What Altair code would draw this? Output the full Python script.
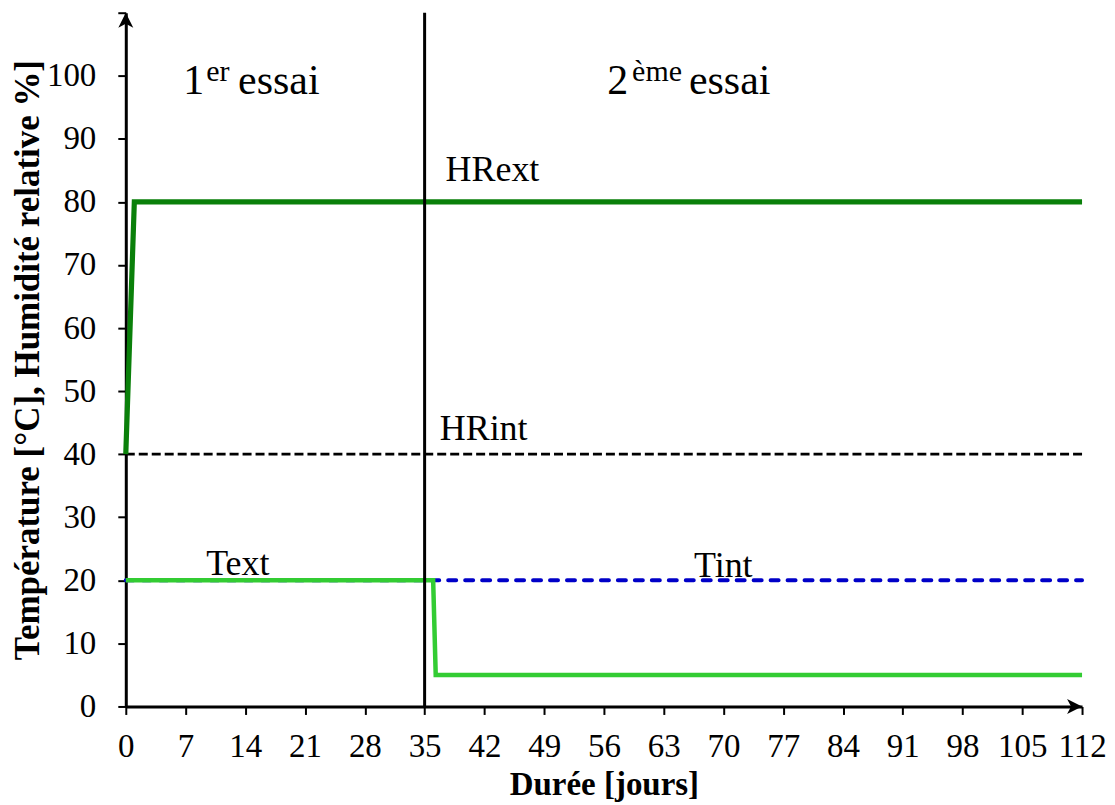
import altair as alt
import pandas as pd

# ---- data ----
days_hrext = [0, 1, 112]
vals_hrext = [40, 80, 80]
days_hrint = [0, 112]
vals_hrint = [40, 40]
days_text = [0, 36, 36.3, 112]
vals_text = [20, 20, 5, 5]
days_tint = [0, 112]
vals_tint = [20, 20]
separator_day = [35]

x_ticks = list(range(0, 113, 7))
y_ticks = list(range(0, 111, 10))
x_max = 112
y_max = 110

ann_text = ["1", "er", "essai", "2", "ème", "essai", "HRext", "HRint", "Text", "Tint"]
ann_x = [6.72, 9.41, 13.15, 56.38, 59.30, 65.96, 37.45, 36.77, 9.41, 66.55]
ann_y = [97.17, 99.16, 97.17, 97.17, 99.16, 97.17, 83.3, 42.3, 20.9, 20.6]
ann_size = [42, 30, 42, 42, 30, 42, 36, 36, 36, 36]

FONT = "Liberation Serif"

def series_df(days, vals, name):
    return pd.DataFrame({"day": days, "value": vals, "series": name, "o": range(len(days))})

df_lines = pd.concat([
    series_df(days_hrext, vals_hrext, "HRext"),
    series_df(days_hrint, vals_hrint, "HRint"),
    series_df(days_text, vals_text, "Text"),
    series_df(days_tint, vals_tint, "Tint"),
])
df_ann = pd.DataFrame({"t": ann_text, "x": ann_x, "y": ann_y, "s": ann_size})
df_sep = pd.DataFrame({"day": separator_day, "y0": [0], "y1": [y_max]})

xs = alt.Scale(domain=[0, x_max], nice=False, zero=False)
ys = alt.Scale(domain=[0, y_max], nice=False)

x_axis = alt.Axis(values=x_ticks, title="Durée [jours]", labelPadding=16, titlePadding=5,
                  labelAngle=0, labelFlush=False)
y_axis = alt.Axis(values=y_ticks, title="Température [°C], Humidité relative %]",
                  labelPadding=22, titlePadding=1, titleFontSize=35,
                  labelExpr="datum.value == 110 ? '' : datum.label")

base = alt.Chart(df_lines)

def line(name, color, width, dash=None, cap="butt"):
    kw = dict(color=color, strokeWidth=width, strokeCap=cap, strokeJoin="miter")
    if dash:
        kw["strokeDash"] = dash
    return base.transform_filter(alt.datum.series == name).mark_line(**kw).encode(
        x=alt.X("day:Q", scale=xs, axis=x_axis),
        y=alt.Y("value:Q", scale=ys, axis=y_axis),
        order="o:Q",
    )

tint = line("Tint", "#0000c8", 4, [8, 9], "round")
text_l = line("Text", "#33cc33", 4.5)
hrint = line("HRint", "#000000", 2.8, [9, 4])
hrext = line("HRext", "#0a800a", 5.2)

sep = alt.Chart(df_sep).mark_rule(color="black", strokeWidth=3).encode(
    x=alt.X("day:Q", scale=xs), y=alt.Y("y0:Q", scale=ys), y2="y1:Q"
)

ann = alt.Chart(df_ann).mark_text(font=FONT, align="left", baseline="alphabetic", color="black").encode(
    x=alt.X("x:Q", scale=xs), y=alt.Y("y:Q", scale=ys), text="t:N",
    size=alt.Size("s:Q", scale=None, legend=None),
)

up_arrow = alt.Chart(pd.DataFrame({"x": [0], "y": [y_max]})).mark_point(
    shape="M0,0 L-0.75,1.5 L0,1.1 L0.75,1.5 Z", filled=True, color="black", opacity=1, size=400
).encode(x=alt.X("x:Q", scale=xs), y=alt.Y("y:Q", scale=ys))

right_arrow = alt.Chart(pd.DataFrame({"x": [x_max], "y": [0]})).mark_point(
    shape="M0,0 L-1.5,-0.75 L-1.1,0 L-1.5,0.75 Z", filled=True, color="black", opacity=1, size=400
).encode(x=alt.X("x:Q", scale=xs), y=alt.Y("y:Q", scale=ys))

chart = alt.layer(tint, text_l, hrint, hrext, sep, ann, up_arrow, right_arrow).properties(
    width=958, height=695,
    autosize=alt.AutoSizeParams(type="none"),
    padding={"left": 118, "top": 4, "right": 25, "bottom": 97},
).configure_view(stroke=None).configure_axis(
    grid=False, domainColor="black", domainWidth=3, tickColor="black", tickWidth=2, tickSize=8,
    labelFont=FONT, labelFontSize=33, labelColor="black",
    titleFont=FONT, titleFontSize=33, titleFontWeight="bold", titleColor="black",
)

chart.save("out.html", embed_options={"renderer": "svg", "actions": False})
